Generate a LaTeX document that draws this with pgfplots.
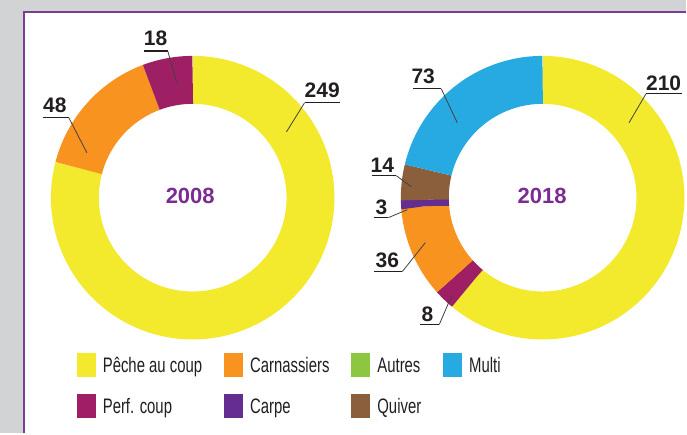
\documentclass[border=0pt]{standalone}
\usepackage{fontspec}
\setmainfont{Liberation Sans}
\newfontfamily\legfont[FakeStretch=0.71]{Liberation Sans}
\usepackage{pgfplots}
\usepackage{pgfplotstable}
\pgfplotsset{compat=1.18}
\definecolor{cYel}{HTML}{F3EA2E}
\definecolor{cOrg}{HTML}{F7931E}
\definecolor{cMag}{HTML}{9E1F63}
\definecolor{cGrn}{HTML}{8DC63F}
\definecolor{cBlu}{HTML}{27AAE1}
\definecolor{cPur}{HTML}{662D91}
\definecolor{cBro}{HTML}{8B5E3C}
\definecolor{cFrame}{HTML}{7E3B96}
\definecolor{cYear}{HTML}{7B2C92}
\definecolor{cGray}{HTML}{D1D3D4}
\definecolor{cTxt}{HTML}{231F20}

\pgfplotsset{sqleg/.style={legend image code/.code={\fill[##1] (0pt,-10pt) rectangle (19pt,14pt);}}}

% 2008
\pgfplotstableread{
cat value col
Peche 249 cYel
Carn 48 cOrg
Perf 18 cMag
}\dataA
% 2018
\pgfplotstableread{
cat value col
Peche 210 cYel
Perf 8 cMag
Carn 36 cOrg
Carpe 3 cPur
Quiver 14 cBro
Multi 73 cBlu
}\dataB
\pgfplotstablecreatecol[create col/expr accum={\pgfmathaccuma+\thisrow{value}}{0}]{cum}\dataA
\pgfplotstablecreatecol[create col/expr accum={\pgfmathaccuma+\thisrow{value}}{0}]{cum}\dataB

\newcommand{\drawdonut}[3]{%
  \pgfplotstablegetrowsof{#1}%
  \pgfmathtruncatemacro{\lastrow}{\pgfplotsretval-1}%
  \pgfplotstablegetelem{\lastrow}{cum}\of{#1}%
  \let\tot\pgfplotsretval
  \pgfplotsforeachungrouped \rowi in {0,...,\lastrow}{%
    \pgfplotstablegetelem{\rowi}{value}\of{#1}\let\vv\pgfplotsretval
    \pgfplotstablegetelem{\rowi}{cum}\of{#1}\let\cu\pgfplotsretval
    \pgfplotstablegetelem{\rowi}{col}\of{#1}\let\cl\pgfplotsretval
    \pgfmathsetmacro{\fE}{\cu/\tot}%
    \pgfmathsetmacro{\fS}{(\cu-\vv)/\tot}%
    \pgfmathsetmacro{\aE}{90-360*\fE}%
    \pgfmathsetmacro{\aS}{90-360*\fS}%
    \edef\tmp{\noexpand\addplot[draw=\cl, line width=48pt, domain=\aE:\aS, samples=181, no markers, forget plot] ({#2+118*cos(x)},{#3+118*sin(x)});}%
    \tmp
  }%
}

\newcommand{\numfont}{\bfseries\fontsize{21}{21}\selectfont}

\begin{document}
\begin{tikzpicture}
\begin{axis}[
  set layers,
  width=687pt, height=434pt, scale only axis,
  xmin=0, xmax=687, ymin=0, ymax=434,
  hide axis, clip=false,
  sqleg,
  legend columns=4,
  legend cell align=left,
  legend style={draw=none, fill=none, inner sep=0pt, outer sep=0pt,
    at={(0.11208,0.18433)}, anchor=north west,
    font=\legfont\fontsize{21}{21}\selectfont, text=cTxt,
    nodes={inner sep=0pt, text height=15pt, text depth=5pt},
    row sep=17pt,
    /tikz/every odd column/.append style={column sep=7pt},
    /tikz/every even column/.append style={column sep=22pt}},
]
\begin{pgfonlayer}{axis background}
\fill[cGray] (axis cs:0,0) rectangle (axis cs:687,434);
\fill[white] (axis cs:23,0) rectangle (axis cs:687,423);
\draw[cFrame, line width=2.2pt] (axis cs:24,0) -- (axis cs:24,422) -- (axis cs:687,422);
\end{pgfonlayer}

\drawdonut{\dataA}{193}{236}
\drawdonut{\dataB}{543.5}{236}

\addlegendimage{fill=cYel, draw=none}
\addlegendimage{fill=cOrg, draw=none}
\addlegendimage{fill=cGrn, draw=none}
\addlegendimage{fill=cBlu, draw=none}
\addlegendimage{fill=cMag, draw=none}
\addlegendimage{fill=cPur, draw=none}
\addlegendimage{fill=cBro, draw=none}
\legend{Pêche au coup, Carnassiers, Autres, Multi, Perf. coup, Carpe, Quiver}

% year labels
\node[anchor=base, inner sep=0pt, text=cYear, font=\bfseries\fontsize{22}{22}\selectfont] at (axis cs:190.5,230) {2008};
\node[anchor=base, inner sep=0pt, text=cYear, font=\bfseries\fontsize{22}{22}\selectfont] at (axis cs:543,230) {2018};

% value labels with leader lines
\begin{scope}[every node/.style={anchor=base west, inner sep=0pt, text=cTxt, font=\numfont}]
\node at (axis cs:305,336) {249};
\draw[cTxt, line width=1.2pt] (axis cs:305,331) -- (axis cs:341,331);
\draw[cTxt!85, line width=0.8pt] (axis cs:305,331) -- (axis cs:287,302);

\node at (axis cs:144,388) {18};
\draw[cTxt, line width=1.2pt] (axis cs:144,383) -- (axis cs:168,383);
\draw[cTxt!85, line width=0.8pt] (axis cs:168,383) -- (axis cs:177,351);

\node at (axis cs:43,321) {48};
\draw[cTxt, line width=1.2pt] (axis cs:43,316) -- (axis cs:69,316);
\draw[cTxt!85, line width=0.8pt] (axis cs:69,316) -- (axis cs:87,281);

\node at (axis cs:412,350) {73};
\draw[cTxt, line width=1.2pt] (axis cs:414,345) -- (axis cs:442,345);
\draw[cTxt!85, line width=0.8pt] (axis cs:442,345) -- (axis cs:458,311);

\node at (axis cs:371,261) {14};
\draw[cTxt, line width=1.2pt] (axis cs:373,258) -- (axis cs:397,258);
\draw[cTxt!85, line width=0.8pt] (axis cs:397,258) -- (axis cs:412,247);

\node at (axis cs:376,219) {3};
\draw[cTxt, line width=1.2pt] (axis cs:375,216) -- (axis cs:389,216);
\draw[cTxt!85, line width=0.8pt] (axis cs:389,216) -- (axis cs:408,224);

\node at (axis cs:376,166) {36};
\draw[cTxt, line width=1.2pt] (axis cs:375,162) -- (axis cs:403,162);
\draw[cTxt!85, line width=0.8pt] (axis cs:403,162) -- (axis cs:426,191);

\node at (axis cs:422,112) {8};
\draw[cTxt, line width=1.2pt] (axis cs:421,109) -- (axis cs:440,109);
\draw[cTxt!85, line width=0.8pt] (axis cs:440,109) -- (axis cs:452,137);

\node at (axis cs:647,343) {210};
\draw[cTxt, line width=1.2pt] (axis cs:647,340) -- (axis cs:683,340);
\draw[cTxt!85, line width=0.8pt] (axis cs:647,340) -- (axis cs:630,311);
\end{scope}
\end{axis}
\end{tikzpicture}
\end{document}
